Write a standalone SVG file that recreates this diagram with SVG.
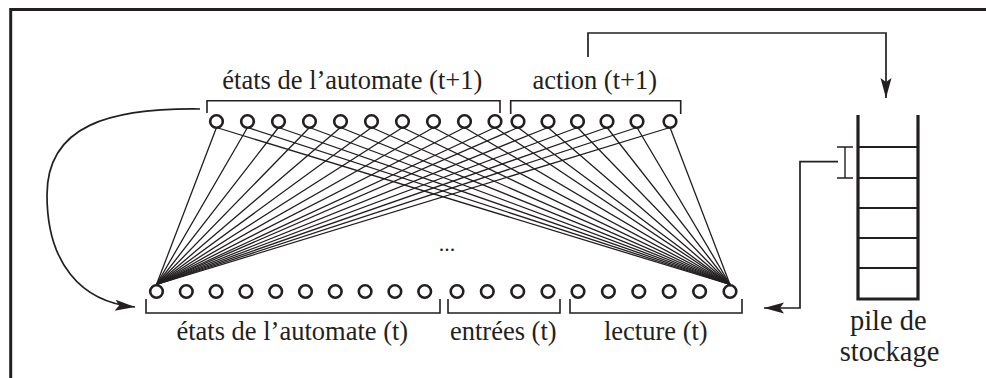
<svg xmlns="http://www.w3.org/2000/svg" width="986" height="378" viewBox="0 0 986 378">
<style>
.lbl{font-family:"Liberation Serif","Times New Roman",serif;font-size:26.5px;fill:#231f20;text-anchor:middle}
.pile{font-family:"Liberation Serif","Times New Roman",serif;font-size:28.5px;fill:#231f20;text-anchor:middle}
.n{fill:#fff;stroke:#231f20;stroke-width:2.6}
.fan{stroke:#231f20;stroke-width:1.3;fill:none}
.br{stroke:#231f20;stroke-width:1.6;fill:none}
.cn{stroke:#231f20;stroke-width:1.7;fill:none}
.wall{stroke:#231f20;stroke-width:3.2;fill:none}
.cell{stroke:#231f20;stroke-width:1.8}
</style>
<defs>
<marker id="ah" markerUnits="userSpaceOnUse" markerWidth="22" markerHeight="14" viewBox="-20 -7 22 14" refX="0" refY="0" orient="auto">
<path d="M0,0 L-20,-5.5 L-16,0 L-20,5.5 Z" fill="#231f20"/>
</marker>
</defs>
<rect width="986" height="378" fill="#fff"/>
<g id="frame">
<path d="M10.7,378 V9.5 H986" stroke="#231f20" stroke-width="3" fill="none"/>
</g>
<g id="connectors">
<g class="fan">
<path d="M216.5,127.5L156.5,284.5M216.5,127.5L730,284.5"/>
<path d="M247.5,127.5L156.5,284.5M247.5,127.5L730,284.5"/>
<path d="M278.5,127.5L156.5,284.5M278.5,127.5L730,284.5"/>
<path d="M309.5,127.5L156.5,284.5M309.5,127.5L730,284.5"/>
<path d="M340.5,127.5L156.5,284.5M340.5,127.5L730,284.5"/>
<path d="M371.5,127.5L156.5,284.5M371.5,127.5L730,284.5"/>
<path d="M402.5,127.5L156.5,284.5M402.5,127.5L730,284.5"/>
<path d="M433.5,127.5L156.5,284.5M433.5,127.5L730,284.5"/>
<path d="M464.5,127.5L156.5,284.5M464.5,127.5L730,284.5"/>
<path d="M495,127.5L156.5,284.5M495,127.5L730,284.5"/>
<path d="M518,127.5L156.5,284.5M518,127.5L730,284.5"/>
<path d="M548,127.5L156.5,284.5M548,127.5L730,284.5"/>
<path d="M577.5,127.5L156.5,284.5M577.5,127.5L730,284.5"/>
<path d="M607,127.5L156.5,284.5M607,127.5L730,284.5"/>
<path d="M637,127.5L156.5,284.5M637,127.5L730,284.5"/>
<path d="M670,127.5L156.5,284.5M670,127.5L730,284.5"/>
</g>
<path class="cn" d="M200,109 C110,108 47,125 47,195 C47,262 80,302 135,307" marker-end="url(#ah)"/>
<path class="cn" d="M588,57 V33 H886 V98" marker-end="url(#ah)"/>
<path class="cn" d="M838,161.7 H800 V308 H764" marker-end="url(#ah)"/>
</g>
<g id="top-nodes">
<circle class="n" cx="216.5" cy="121.5" r="6.3"/><circle class="n" cx="247.5" cy="121.5" r="6.3"/><circle class="n" cx="278.5" cy="121.5" r="6.3"/><circle class="n" cx="309.5" cy="121.5" r="6.3"/><circle class="n" cx="340.5" cy="121.5" r="6.3"/><circle class="n" cx="371.5" cy="121.5" r="6.3"/><circle class="n" cx="402.5" cy="121.5" r="6.3"/><circle class="n" cx="433.5" cy="121.5" r="6.3"/><circle class="n" cx="464.5" cy="121.5" r="6.3"/><circle class="n" cx="495" cy="121.5" r="6.3"/>
<circle class="n" cx="518" cy="121.5" r="6.3"/><circle class="n" cx="548" cy="121.5" r="6.3"/><circle class="n" cx="577.5" cy="121.5" r="6.3"/><circle class="n" cx="607" cy="121.5" r="6.3"/><circle class="n" cx="637" cy="121.5" r="6.3"/><circle class="n" cx="670" cy="121.5" r="6.3"/>
<path class="br" d="M207,113 V100.7 H500 V113"/>
<path class="br" d="M510.7,114 V100.7 H680.7 V114"/>
<text class="lbl" x="352.3" y="88.5">états de l’automate (t+1)</text>
<text class="lbl" x="594.8" y="88.5">action (t+1)</text>
</g>
<g id="bottom-nodes">
<circle class="n" cx="156.5" cy="291.5" r="6.3"/><circle class="n" cx="186.3" cy="291.5" r="6.3"/><circle class="n" cx="216.1" cy="291.5" r="6.3"/><circle class="n" cx="245.9" cy="291.5" r="6.3"/><circle class="n" cx="275.7" cy="291.5" r="6.3"/><circle class="n" cx="305.5" cy="291.5" r="6.3"/><circle class="n" cx="335.3" cy="291.5" r="6.3"/><circle class="n" cx="365.1" cy="291.5" r="6.3"/><circle class="n" cx="394.9" cy="291.5" r="6.3"/><circle class="n" cx="424.7" cy="291.5" r="6.3"/>
<circle class="n" cx="457" cy="291.5" r="6.3"/><circle class="n" cx="487.3" cy="291.5" r="6.3"/><circle class="n" cx="517.7" cy="291.5" r="6.3"/><circle class="n" cx="548" cy="291.5" r="6.3"/>
<circle class="n" cx="578" cy="291.5" r="6.3"/><circle class="n" cx="608.4" cy="291.5" r="6.3"/><circle class="n" cx="638.8" cy="291.5" r="6.3"/><circle class="n" cx="669.2" cy="291.5" r="6.3"/><circle class="n" cx="699.6" cy="291.5" r="6.3"/><circle class="n" cx="730" cy="291.5" r="6.3"/>
<path class="br" d="M146,299 V313 H440 V299"/>
<path class="br" d="M448,299 V313 H560 V299"/>
<path class="br" d="M570,299 V313 H742 V299"/>
<text class="lbl" x="292.3" y="340">états de l’automate (t)</text>
<text class="lbl" x="503.3" y="340">entrées (t)</text>
<text class="lbl" x="655.8" y="340">lecture (t)</text>
<text class="lbl" x="447" y="251" style="font-size:22px">...</text>
</g>
<g id="stack">
<path class="wall" d="M858,115 V299 H918 V115"/>
<path class="cell" d="M858,147H918M858,178H918M858,208H918M858,238H918M858,268H918"/>
<path class="br" d="M845,147 V178 M837,147 H853 M837,178 H853" style="stroke-width:1.4"/>
<text class="pile" x="888.3" y="330">pile de</text>
<text class="pile" x="889.5" y="360.5">stockage</text>
</g>
</svg>
